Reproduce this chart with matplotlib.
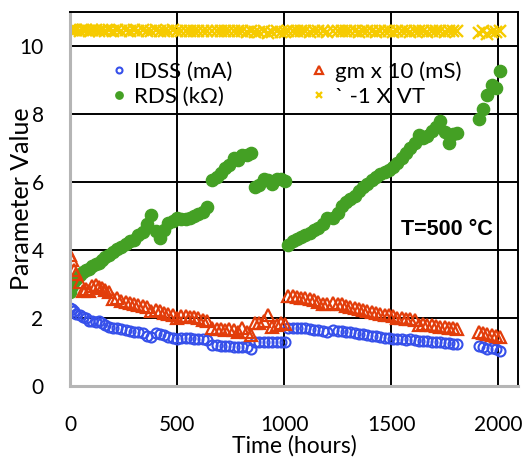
import matplotlib
matplotlib.use('Agg')
import matplotlib.pyplot as plt

plt.rcParams['font.family'] = ['Lato', 'DejaVu Sans']

# measurement times (hours), shared by all four parameters
hours = [0, 10, 20, 30, 45, 60, 75, 90, 105, 120, 135, 150, 165, 180, 200, 220, 240, 260, 280, 300,
         320, 340, 360, 380, 400, 420, 440, 460, 480, 500, 520, 540, 560, 580, 600, 620, 640,
         665, 685, 705, 725, 745, 765, 785, 805, 825, 845,
         865, 885, 905, 925, 945, 965, 985, 1005,
         1020, 1040, 1060, 1080, 1100, 1120, 1140, 1160, 1180, 1200,
         1230, 1250, 1270, 1290, 1310, 1330, 1350, 1370, 1390, 1410, 1430, 1450, 1470, 1490, 1510,
         1530, 1550, 1570, 1590, 1610, 1630, 1650, 1670, 1690, 1710, 1730, 1750, 1770, 1790, 1810,
         1910, 1930, 1950, 1970, 1990, 2010]

idss = [2.30, 2.27, 2.20, 2.12, 2.08, 2.03, 2.00, 1.92, 1.90, 1.88, 1.90, 1.85, 1.80, 1.75, 1.72, 1.70, 1.68, 1.65, 1.62, 1.60,
        1.58, 1.55, 1.48, 1.45, 1.55, 1.53, 1.50, 1.45, 1.40, 1.38, 1.40, 1.40, 1.40, 1.39, 1.38, 1.38, 1.36,
        1.20, 1.20, 1.18, 1.18, 1.17, 1.16, 1.16, 1.15, 1.16, 1.10,
        1.30, 1.30, 1.29, 1.29, 1.28, 1.28, 1.28, 1.28,
        1.72, 1.72, 1.71, 1.70, 1.70, 1.68, 1.66, 1.64, 1.62, 1.60,
        1.65, 1.63, 1.61, 1.60, 1.58, 1.56, 1.54, 1.52, 1.50, 1.48, 1.46, 1.44, 1.42, 1.40, 1.39,
        1.38, 1.37, 1.36, 1.38, 1.34, 1.33, 1.32, 1.31, 1.30, 1.29, 1.28, 1.27, 1.26, 1.25, 1.23,
        1.18, 1.16, 1.10, 1.12, 1.08, 1.03]

gm = [3.85, 3.70, 3.40, 3.30, 3.05, 2.78, 2.85, 2.80, 2.95, 2.98, 2.90, 2.88, 2.82, 2.75, 2.55, 2.58, 2.50, 2.47, 2.45, 2.40,
      2.38, 2.35, 2.33, 2.20, 2.25, 2.22, 2.15, 2.12, 2.10, 2.00, 2.05, 2.05, 2.03, 2.02, 2.00, 1.95, 1.92,
      1.72, 1.68, 1.68, 1.66, 1.68, 1.65, 1.60, 1.72, 1.60, 1.50,
      1.85, 1.85, 1.90, 2.10, 1.75, 1.80, 1.85, 1.82,
      2.65, 2.64, 2.62, 2.60, 2.58, 2.56, 2.52, 2.48, 2.42, 2.40,
      2.45, 2.42, 2.40, 2.36, 2.33, 2.30, 2.27, 2.24, 2.20, 2.17, 2.15, 2.12, 2.10, 2.08, 2.05,
      2.00, 2.00, 1.98, 1.96, 1.95, 1.78, 1.82, 1.80, 1.79, 1.77, 1.75, 1.73, 1.72, 1.70, 1.68,
      1.58, 1.55, 1.52, 1.50, 1.48, 1.45]

rds = [2.77, 2.95, 3.10, 3.15, 3.26, 3.35, 3.40, 3.45, 3.52, 3.58, 3.62, 3.70, 3.78, 3.85, 3.95, 4.02, 4.10, 4.18, 4.25, 4.30,
       4.45, 4.52, 4.75, 5.02, 4.55, 4.35, 4.60, 4.80, 4.85, 4.95, 4.90, 4.92, 4.95, 5.00, 5.05, 5.12, 5.25,
       6.05, 6.15, 6.25, 6.40, 6.50, 6.70, 6.65, 6.80, 6.78, 6.85,
       5.85, 5.90, 6.10, 6.05, 5.95, 6.10, 6.10, 6.02,
       4.15, 4.25, 4.32, 4.38, 4.45, 4.50, 4.58, 4.65, 4.75, 4.95,
       4.95, 5.10, 5.30, 5.40, 5.50, 5.60, 5.72, 5.85, 5.95, 6.05, 6.15, 6.22, 6.30, 6.35, 6.45,
       6.55, 6.70, 6.85, 7.00, 7.15, 7.38, 7.30, 7.35, 7.50, 7.62, 7.78, 7.48, 7.15, 7.40, 7.45,
       7.85, 8.15, 8.55, 8.85, 8.75, 9.25]

vt = [10.48, 10.47, 10.46, 10.48, 10.45, 10.47, 10.46, 10.45, 10.47, 10.46, 10.45, 10.46, 10.45, 10.47, 10.45, 10.46, 10.45, 10.46, 10.45, 10.46,
      10.45, 10.46, 10.45, 10.45, 10.46, 10.45, 10.44, 10.45, 10.46, 10.45, 10.45, 10.44, 10.45, 10.45, 10.44, 10.45, 10.44,
      10.44, 10.43, 10.44, 10.43, 10.44, 10.43, 10.44, 10.43, 10.42, 10.44,
      10.42, 10.40, 10.43, 10.38, 10.42, 10.44, 10.40, 10.42,
      10.43, 10.44, 10.43, 10.44, 10.43, 10.42, 10.43, 10.44, 10.43, 10.42,
      10.44, 10.43, 10.44, 10.43, 10.44, 10.43, 10.42, 10.43, 10.44, 10.43, 10.42, 10.43, 10.44, 10.43, 10.42,
      10.43, 10.44, 10.43, 10.42, 10.43, 10.44, 10.43, 10.42, 10.43, 10.44, 10.43, 10.42, 10.43, 10.44, 10.43,
      10.38, 10.45, 10.36, 10.42, 10.40, 10.43]

x_ticks = [0, 500, 1000, 1500, 2000]
y_ticks = [0, 2, 4, 6, 8, 10]

fig = plt.figure(figsize=(5.25, 4.59), dpi=100)
ax = fig.add_axes([0.1333, 0.159, 0.8533, 0.815])

ax.set_xlim(0, 2093)
ax.set_ylim(0, 11)
ax.set_xticks(x_ticks)
ax.set_yticks(y_ticks)
ax.grid(True, color='black', linewidth=1.4)
ax.set_axisbelow(True)
ax.tick_params(axis='both', length=0, labelsize=15)
ax.tick_params(axis='x', pad=21)
ax.tick_params(axis='y', pad=19)

for side in ['top', 'right']:
    ax.spines[side].set_color('black')
    ax.spines[side].set_linewidth(1.4)
for side in ['left', 'bottom']:
    ax.spines[side].set_color('#b5b5b5')
    ax.spines[side].set_linewidth(2.2)

ax.plot(hours, idss, linestyle='none', marker='o', markersize=7.2, markerfacecolor='none',
        markeredgecolor='#3650ea', markeredgewidth=1.5, label='IDSS (mA)')
ax.plot(hours, rds, linestyle='none', marker='o', markersize=8.8, color='#44a024', label='RDS (kΩ)')
ax.plot(hours, gm, linestyle='none', marker='^', markersize=8.5, markerfacecolor='none',
        markeredgecolor='#e23d0a', markeredgewidth=1.6, label='gm x 10 (mS)')
ax.plot(hours, vt, linestyle='none', marker='x', markersize=8, color='#f6cb00',
        markeredgewidth=1.7, label='` -1 X VT')

ax.legend(loc='upper left', bbox_to_anchor=(0.094, 0.869), ncol=2, frameon=False, fontsize=16,
          markerscale=0.6, handlelength=0.6, handletextpad=0.4, columnspacing=3.6,
          labelspacing=0.25, borderaxespad=0, borderpad=0)

ax.text(1762, 4.6, 'T=500 °C', fontsize=15.5, fontweight='bold', family='Liberation Sans',
        ha='center', va='center')

ax.set_xlabel('Time (hours)', fontsize=16.5)
ax.set_ylabel('Parameter Value', fontsize=18)
ax.xaxis.set_label_coords(0.5, -0.131)
ax.xaxis.label.set_va('top')
ax.yaxis.set_label_coords(-0.083, 0.5)

fig.savefig('out.png', dpi=100)
